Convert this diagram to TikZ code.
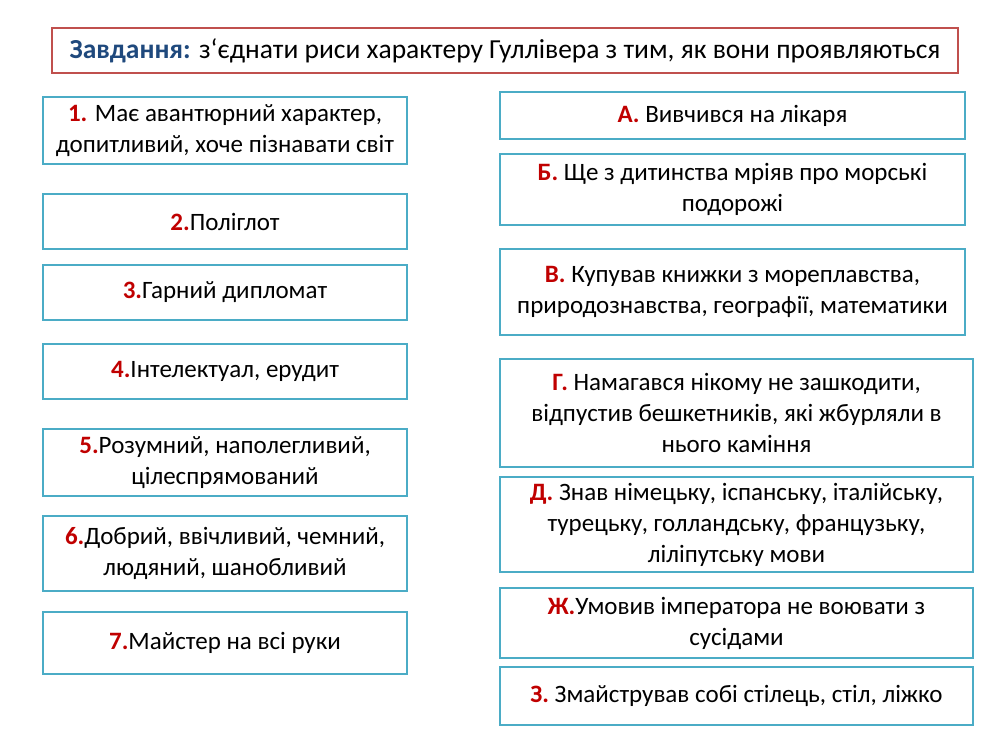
\documentclass[tikz,border=0pt]{standalone}
\usepackage{fontspec}
\setmainfont{Carlito}
\definecolor{tealb}{HTML}{4BACC6}
\definecolor{redb}{HTML}{C0504D}
\definecolor{lab}{HTML}{C00000}
\definecolor{navy}{HTML}{1F497D}
\begin{document}
\begin{tikzpicture}[x=1pt,y=-1pt,
 bx/.style={draw=tealb,line width=2.5pt,fill=white,align=center,font=\fontsize{25}{31}\selectfont,inner sep=0pt}]
\useasboundingbox (0,0) rectangle (1000,750);
\fill[white] (0,0) rectangle (1000,750);
\newcommand\bxx[6]{\node[bx,minimum width={#3-#1},minimum height={#4-#2}] (#5) at ({(#1+#3)/2},{(#2+#4)/2}) {#6};}
\node[draw=redb,line width=2pt,minimum width=906,minimum height=45,inner sep=0pt,font=\fontsize{27.5}{30}\selectfont] (t) at (505,50.5) {\textcolor{navy}{\textbf{Завдання:}} з‘єднати риси характеру Гуллівера з тим, як вони проявляються};
\bxx{43}{97}{407}{164}{l1}{\textcolor{lab}{\textbf{1.}} Має авантюрний характер,\\допитливий, хоче пізнавати світ}
\bxx{43}{194}{407}{249}{l2}{\textcolor{lab}{\textbf{2.}}Поліглот}
\bxx{43}{265}{407}{320}{l3}{\textcolor{lab}{\textbf{3.}}Гарний дипломат}
\bxx{43}{344}{407}{399}{l4}{\textcolor{lab}{\textbf{4.}}Інтелектуал, ерудит}
\bxx{43}{429}{407}{496}{l5}{\textcolor{lab}{\textbf{5.}}Розумний, наполегливий,\\цілеспрямований}
\bxx{43}{516}{407}{591}{l6}{\textcolor{lab}{\textbf{6.}}Добрий, ввічливий, чемний,\\людяний, шанобливий}
\bxx{43}{612}{407}{674}{l7}{\textcolor{lab}{\textbf{7.}}Майстер на всі руки}
\bxx{500}{92}{965}{139}{ra}{\textcolor{lab}{\textbf{А.}} Вивчився на лікаря}
\bxx{500}{154}{965}{225}{rb}{\textcolor{lab}{\textbf{Б.}} Ще з дитинства мріяв про морські\\подорожі}
\bxx{500}{249}{965}{335}{rv}{\textcolor{lab}{\textbf{В.}} Купував книжки з мореплавства,\\природознавства, географії, математики}
\bxx{500}{359}{973}{467}{rg}{\textcolor{lab}{\textbf{Г.}} Намагався нікому не зашкодити,\\відпустив бешкетників, які жбурляли в\\нього каміння}
\bxx{500}{477}{973}{572}{rd}{\textcolor{lab}{\textbf{Д.}} Знав німецьку, іспанську, італійську,\\турецьку, голландську, французьку,\\ліліпутську мови}
\bxx{500}{588}{973}{658}{rzh}{\textcolor{lab}{\textbf{Ж.}}Умовив імператора не воювати з\\сусідами}
\bxx{500}{667}{973}{725}{rz}{\textcolor{lab}{\textbf{З.}} Змайстрував собі стілець, стіл, ліжко}
\end{tikzpicture}
\end{document}
